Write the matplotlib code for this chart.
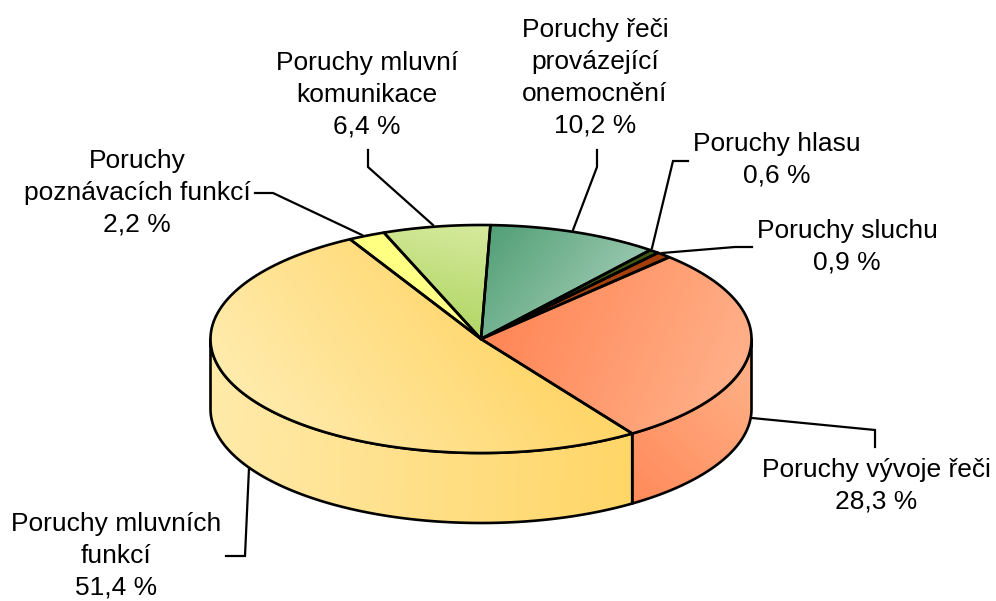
import numpy as np
import matplotlib
matplotlib.use('Agg')
import matplotlib.pyplot as plt
from matplotlib.patches import Polygon

plt.rcParams['font.family'] = ['Liberation Sans', 'DejaVu Sans']

# ---- data (clockwise from 12 o'clock) ----
labels = ["Poruchy řeči\nprovázející\nonemocnění", "Poruchy hlasu", "Poruchy sluchu",
          "Poruchy vývoje řeči", "Poruchy mluvních\nfunkcí",
          "Poruchy\npoznávacích funkcí", "Poruchy mluvní\nkomunikace"]
values = [10.2, 0.6, 0.9, 28.3, 51.4, 2.2, 6.4]
# (saturated colour, light colour) for top faces
top_colors = [("#4f9e74", "#a3cdb6"), ("#3d5a10", "#4a6a18"), ("#a33d0a", "#b04a12"),
              ("#ff8656", "#ffb48e"), ("#ffd66a", "#ffedb2"), ("#ffff80", "#ffff8c"),
              ("#b2d766", "#d6ea9e")]

# ---- geometry ----
cx, cy, rx, ry, depth = 481.0, 339.0, 270.5, 114.0, 70.0
start = 2.0
EDGE = 1.9

fig = plt.figure(figsize=(9.96, 6.01), dpi=100)
ax = fig.add_axes([0, 0, 1, 1])
ax.set_xlim(0, 996)
ax.set_ylim(601, 0)
ax.axis('off')


def pts(a0, a1, dy=0.0, n=200):
    t = np.radians(np.linspace(a0, a1, n))
    return np.column_stack([cx + rx * np.sin(t), cy - ry * np.cos(t) + dy])


def grad_fill(verts, c1, p1, c2, p2, z):
    c1 = np.array(matplotlib.colors.to_rgb(c1))
    c2 = np.array(matplotlib.colors.to_rgb(c2))
    x0, y0 = verts.min(axis=0) - 2
    x1, y1 = verts.max(axis=0) + 2
    X, Y = np.meshgrid(np.linspace(x0, x1, 300), np.linspace(y0, y1, 300))
    d = np.array(p2, float) - np.array(p1, float)
    t = ((X - p1[0]) * d[0] + (Y - p1[1]) * d[1]) / (d @ d)
    t = np.clip(t, 0, 1)[..., None]
    img = c1 * (1 - t) + c2 * t
    patch = Polygon(verts, closed=True, facecolor='none', edgecolor='black',
                    linewidth=EDGE, joinstyle='round', zorder=z + 0.5)
    ax.add_patch(patch)
    im = ax.imshow(img, extent=(x0, x1, y1, y0), origin='upper',
                   interpolation='bilinear', zorder=z, aspect='auto')
    im.set_clip_path(patch)


fracs = np.array(values) / np.sum(values)
bounds = start + 360.0 * np.concatenate([[0], np.cumsum(fracs)])

# gradient directions per slice (saturated point, light point), top faces
top_dirs = [((485, 225), (610, 330)), ((650, 250), (480, 337)), ((665, 255), (480, 337)),
            ((490, 330), (745, 430)), ((470, 260), (240, 430)), ((350, 240), (480, 337)),
            ((455, 330), (480, 222))]
# side faces
side_colors = {3: ("#ff8a5a", "#ffae84"), 4: ("#ffd668", "#ffeaa8")}
side_dirs = {3: ((630, 500), (752, 380)), 4: ((625, 450), (220, 430))}

# sides (only front half visible: 90..270 degrees)
for i in range(len(values)):
    a0, a1 = bounds[i], bounds[i + 1]
    lo, hi = max(a0, 90), min(a1, 270)
    if hi <= lo:
        continue
    top = pts(lo, hi)
    bot = pts(hi, lo, dy=depth)
    verts = np.vstack([top, bot])
    c1, c2 = side_colors.get(i, top_colors[i])
    p1, p2 = side_dirs.get(i, top_dirs[i])
    grad_fill(verts, c1, p1, c2, p2, z=1)

# tops
for i in range(len(values)):
    a0, a1 = bounds[i], bounds[i + 1]
    verts = np.vstack([[[cx, cy]], pts(a0, a1), [[cx, cy]]])
    c1, c2 = top_colors[i]
    p1, p2 = top_dirs[i]
    grad_fill(verts, c1, p1, c2, p2, z=3)

# ---- labels ----
label_pos = [(595, 78), (777, 160), (847, 246.5), (876, 486), (116, 556), (137, 193), (367, 95)]
leaders = [[(597, 150), (597, 167), (573, 230)],
           [(688, 161), (673, 161), (652, 248)],
           [(752, 247), (735, 247), (662, 253)],
           [(752, 418), (875, 430), (875, 447)],
           [(226, 556), (245, 556), (249, 468)],
           [(255, 193), (273, 193), (362, 235)],
           [(368, 150), (368, 167), (433, 225)]]

for i, (lab, v) in enumerate(zip(labels, values)):
    txt = lab + "\n" + f"{v:.1f}".replace('.', ',') + " %"
    x, y = label_pos[i]
    ax.text(x, y, txt, ha='center', va='center', multialignment='center',
            fontsize=19, linespacing=1.42, color='black', zorder=6)
    L = np.array(leaders[i])
    ax.plot(L[:, 0], L[:, 1], color='black', linewidth=1.6, zorder=5,
            solid_joinstyle='miter')

fig.savefig('out.png', dpi=100, facecolor='white')
